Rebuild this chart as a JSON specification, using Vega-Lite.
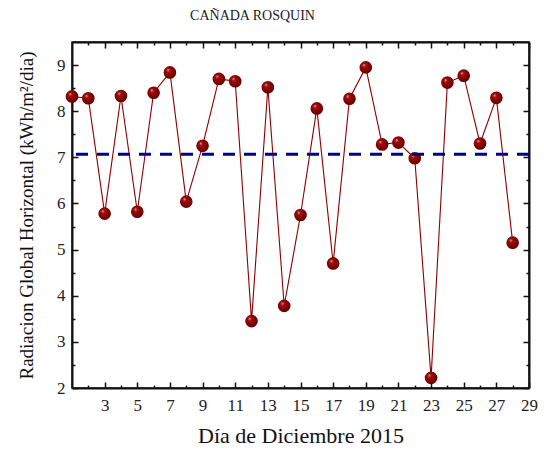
{
  "$schema": "https://vega.github.io/schema/vega-lite/v6.json",
  "autosize": {"type": "none"},
  "padding": {"left": 72, "top": 42, "right": 15, "bottom": 66},
  "width": 457,
  "height": 346,
  "background": "white",
  "title": {"text": "CAÑADA ROSQUIN", "font": "Liberation Serif", "fontSize": 14, "fontWeight": "normal", "color": "#222", "dx": -48, "offset": 18},
  "config": {
    "view": {"stroke": "#111", "strokeWidth": 1.5},
    "axis": {"labelFont": "Liberation Serif", "labelFontSize": 17, "labelColor": "#222", "titleFont": "Liberation Serif", "titleFontWeight": "normal", "titleColor": "#111", "tickColor": "#111", "tickWidth": 1.5, "domainColor": "#111", "domainWidth": 2, "grid": false, "labelFlush": false, "format": "d", "zindex": 1}
  },
  "data": {"values": [
    {"dia": 1, "value": 8.32}, {"dia": 2, "value": 8.28}, {"dia": 3, "value": 5.78}, {"dia": 4, "value": 8.33},
    {"dia": 5, "value": 5.82}, {"dia": 6, "value": 8.40}, {"dia": 7, "value": 8.84}, {"dia": 8, "value": 6.04},
    {"dia": 9, "value": 7.25}, {"dia": 10, "value": 8.70}, {"dia": 11, "value": 8.65}, {"dia": 12, "value": 3.45},
    {"dia": 13, "value": 8.52}, {"dia": 14, "value": 3.78}, {"dia": 15, "value": 5.75}, {"dia": 16, "value": 8.06},
    {"dia": 17, "value": 4.70}, {"dia": 18, "value": 8.27}, {"dia": 19, "value": 8.95}, {"dia": 20, "value": 7.28},
    {"dia": 21, "value": 7.32}, {"dia": 22, "value": 6.98}, {"dia": 23, "value": 2.22}, {"dia": 24, "value": 8.62},
    {"dia": 25, "value": 8.77}, {"dia": 26, "value": 7.30}, {"dia": 27, "value": 8.29}, {"dia": 28, "value": 5.15}
  ]},
  "resolve": {"axis": {"x": "independent", "y": "independent"}},
  "layer": [
    {
      "mark": {"type": "line", "color": "#8B0000", "strokeWidth": 1.1},
      "encoding": {
        "x": {"field": "dia", "type": "quantitative", "scale": {"domain": [1, 29], "nice": false, "zero": false},
          "axis": {"orient": "bottom", "values": [2,3,4,5,6,7,8,9,10,11,12,13,14,15,16,17,18,19,20,21,22,23,24,25,26,27,28,29],
            "labelExpr": "datum.value % 2 === 1 ? datum.label : ''",
            "tickSize": {"condition": {"test": "datum.value % 2 === 1", "value": -6}, "value": -3},
            "labelPadding": 15,
            "title": "Día de Diciembre 2015", "titleFontSize": 22, "titlePadding": 12}},
        "y": {"field": "value", "type": "quantitative", "scale": {"domain": [2, 9.5], "nice": false, "zero": false},
          "axis": {"orient": "left", "values": [2,2.5,3,3.5,4,4.5,5,5.5,6,6.5,7,7.5,8,8.5,9],
            "labelExpr": "datum.value % 1 === 0 ? datum.label : ''",
            "tickSize": {"condition": {"test": "datum.value % 1 === 0", "value": -6}, "value": -3},
            "labelPadding": 13,
            "title": "Radiacion Global Horizontal  (kWh/m²/dia)", "titleFontSize": 19, "titlePadding": 20}}
      }
    },
    {
      "mark": {"type": "point", "shape": "circle", "filled": true, "size": 160, "opacity": 1,
        "color": {"gradient": "radial", "x1": 0.35, "y1": 0.3, "r1": 0, "x2": 0.45, "y2": 0.45, "r2": 0.6,
          "stops": [{"offset": 0, "color": "#f0b8b8"}, {"offset": 0.22, "color": "#a01010"}, {"offset": 0.7, "color": "#7e0000"}, {"offset": 1, "color": "#5a0000"}]}},
      "encoding": {
        "x": {"field": "dia", "type": "quantitative",
          "axis": {"orient": "top", "values": [2,3,4,5,6,7,8,9,10,11,12,13,14,15,16,17,18,19,20,21,22,23,24,25,26,27,28,29], "labels": false, "title": null,
            "tickSize": {"condition": {"test": "datum.value % 2 === 1", "value": -6}, "value": -3}}},
        "y": {"field": "value", "type": "quantitative",
          "axis": {"orient": "right", "values": [2,2.5,3,3.5,4,4.5,5,5.5,6,6.5,7,7.5,8,8.5,9], "labels": false, "title": null,
            "tickSize": {"condition": {"test": "datum.value % 1 === 0", "value": -6}, "value": -3}}}
      }
    },
    {
      "mark": {"type": "rule", "color": "#00008B", "strokeWidth": 3, "strokeDash": [12, 9]},
      "encoding": {
        "y": {"aggregate": "mean", "field": "value", "type": "quantitative", "axis": null}
      }
    }
  ]
}
